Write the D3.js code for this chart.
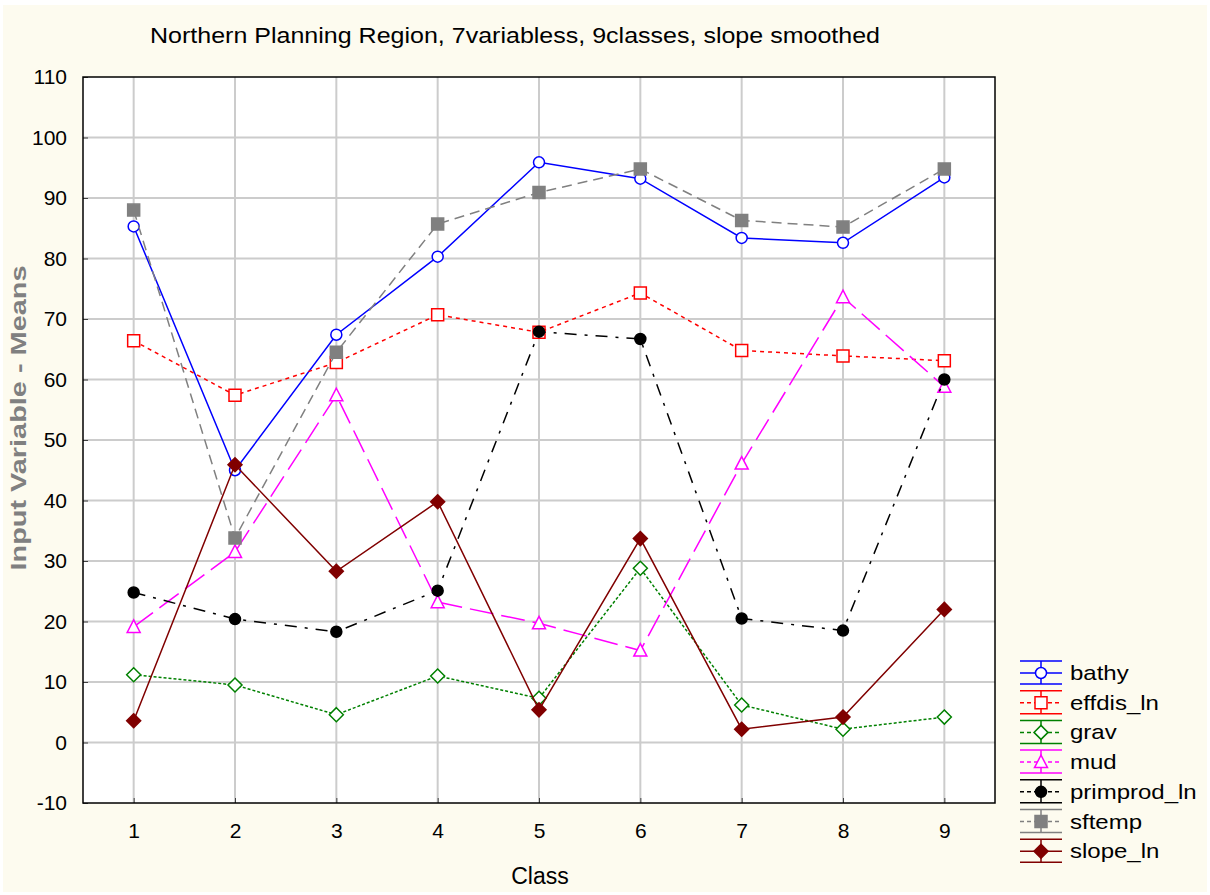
<!DOCTYPE html>
<html>
<head>
<meta charset="utf-8">
<script src="https://cdn.jsdelivr.net/npm/d3@7"></script>
<style>
  html, body { margin: 0; padding: 0; background: #ffffff; }
  svg { display: block; }
  text { font-family: "Liberation Sans", Arial, sans-serif; }
</style>
</head>
<body>
<svg id="chart" width="1210" height="895"></svg>
<script>
// ---------------- data ----------------
const classes = [1, 2, 3, 4, 5, 6, 7, 8, 9];
const yTicks = [-10, 0, 10, 20, 30, 40, 50, 60, 70, 80, 90, 100, 110];
const seriesNames = ["bathy", "effdis_ln", "grav", "mud", "primprod_ln", "sftemp", "slope_ln"];
const bathy       = [85.3, 45.0, 67.4, 80.3, 95.9, 93.2, 83.4, 82.6, 93.4];
const effdis_ln   = [66.4, 57.4, 62.8, 70.7, 67.8, 74.3, 64.8, 63.9, 63.1];
const grav        = [11.2, 9.5, 4.6, 11.0, 7.3, 28.8, 6.2, 2.2, 4.2];
const mud         = [19.1, 31.5, 57.4, 23.2, 19.7, 15.2, 46.1, 73.6, 58.8];
const primprod_ln = [24.8, 20.4, 18.3, 25.1, 67.9, 66.7, 20.5, 18.5, 60.0];
const sftemp      = [88.0, 33.8, 64.5, 85.7, 90.9, 94.8, 86.3, 85.2, 94.8];
const slope_ln    = [3.6, 45.9, 28.3, 39.8, 5.4, 33.7, 2.2, 4.2, 22.0];
const titleText = "Northern Planning Region, 7variabless, 9classes, slope smoothed";
const xLabel = "Class";
const yLabel = "Input Variable - Means";

const seriesValues = [bathy, effdis_ln, grav, mud, primprod_ln, sftemp, slope_ln];

// ---------------- styles ----------------
const styles = {
  "bathy":       { color: "#0000ff", dash: null,          marker: "circle",   fill: "#ffffff", width: 1.5 },
  "effdis_ln":   { color: "#ff0000", dash: "4,4",         marker: "square",   fill: "#ffffff", width: 1.5 },
  "grav":        { color: "#008000", dash: "3,2",         marker: "diamond",  fill: "#ffffff", width: 1.5 },
  "mud":         { color: "#ff00ff", dash: "24,8",        marker: "triangle", fill: "#ffffff", width: 1.5 },
  "primprod_ln": { color: "#000000", dash: "12,8,3,8",    marker: "circle",   fill: "#000000", width: 1.5 },
  "sftemp":      { color: "#808080", dash: "10,6",        marker: "square",   fill: "#808080", width: 1.5 },
  "slope_ln":    { color: "#800000", dash: null,          marker: "diamond",  fill: "#800000", width: 1.5 }
};

function markerPath(type) {
  switch (type) {
    case "circle":   return d3.symbol(d3.symbolCircle, Math.PI * 5.5 * 5.5)();
    case "square":   return "M-6,-6H6V6H-6Z";
    case "diamond":  return "M0,-7L7,0L0,7L-7,0Z";
    case "triangle": return "M0,-7L6.5,5.5H-6.5Z";
  }
}

// ---------------- layout ----------------
const svg = d3.select("#chart");
const W = 1210, H = 895;
const plot = { left: 83, right: 995, top: 77, bottom: 803 };

svg.append("rect").attr("x", 0).attr("y", 0).attr("width", W).attr("height", H).attr("fill", "#ffffff");
svg.append("rect").attr("x", 3).attr("y", 5).attr("width", W - 6).attr("height", H - 8).attr("fill", "#fdfbef");

const x = d3.scaleLinear().domain([0.5, 9.5]).range([plot.left, plot.right]);
const y = d3.scaleLinear().domain([-10, 110]).range([plot.bottom, plot.top]);

// plot background
svg.append("rect")
  .attr("x", plot.left).attr("y", plot.top)
  .attr("width", plot.right - plot.left).attr("height", plot.bottom - plot.top)
  .attr("fill", "#ffffff");

// grid lines
const grid = svg.append("g");
grid.selectAll("line.gy").data(yTicks.slice(1, -1)).join("line")
  .attr("x1", plot.left).attr("x2", plot.right)
  .attr("y1", d => y(d)).attr("y2", d => y(d))
  .attr("stroke", "#cccccc").attr("stroke-width", 2);
grid.selectAll("line.gx").data(classes).join("line")
  .attr("x1", d => x(d)).attr("x2", d => x(d))
  .attr("y1", plot.top).attr("y2", plot.bottom)
  .attr("stroke", "#cccccc").attr("stroke-width", 2);

// axes (ticks inside)
const yAxis = d3.axisLeft(y).tickValues(yTicks).tickSize(-5).tickPadding(16).tickFormat(d => String(d));
const gy = svg.append("g").attr("transform", `translate(${plot.left},0)`).call(yAxis);
gy.select(".domain").remove();
gy.selectAll(".tick line").attr("stroke", "#404040").attr("stroke-width", 1);
gy.selectAll(".tick text").attr("font-size", 21).attr("fill", "#000")
  .attr("font-family", "'Liberation Sans', Arial, sans-serif");

const xAxis = d3.axisBottom(x).tickValues(classes).tickSize(-5).tickPadding(20).tickFormat(d => String(d));
const gx = svg.append("g").attr("transform", `translate(0,${plot.bottom})`).call(xAxis);
gx.select(".domain").remove();
gx.selectAll(".tick line").attr("stroke", "#404040").attr("stroke-width", 1);
gx.selectAll(".tick text").attr("font-size", 21).attr("fill", "#000")
  .attr("font-family", "'Liberation Sans', Arial, sans-serif");

// frame
svg.append("rect")
  .attr("x", plot.left).attr("y", plot.top)
  .attr("width", plot.right - plot.left).attr("height", plot.bottom - plot.top)
  .attr("fill", "none").attr("stroke", "#000").attr("stroke-width", 1.5);

// series
const line = d3.line().x((d, i) => x(classes[i])).y(d => y(d));
seriesNames.forEach((name, si) => {
  const st = styles[name];
  const vals = seriesValues[si];
  const g = svg.append("g");
  g.append("path").datum(vals)
    .attr("d", line)
    .attr("fill", "none")
    .attr("stroke", st.color)
    .attr("stroke-width", st.width)
    .attr("stroke-dasharray", st.dash);
  g.selectAll("path.m").data(vals).join("path")
    .attr("class", "m")
    .attr("transform", (d, i) => `translate(${x(classes[i])},${y(d)})`)
    .attr("d", markerPath(st.marker))
    .attr("fill", st.fill)
    .attr("stroke", st.color)
    .attr("stroke-width", 1.5);
});

// title
svg.append("text")
  .attr("x", 515).attr("y", 43)
  .attr("text-anchor", "middle")
  .attr("font-size", 22.5)
  .attr("fill", "#000")
  .attr("textLength", 730)
  .attr("lengthAdjust", "spacingAndGlyphs")
  .text(titleText);

// axis labels
svg.append("text")
  .attr("x", 540).attr("y", 884)
  .attr("text-anchor", "middle")
  .attr("font-size", 23)
  .attr("fill", "#000")
  .text(xLabel);

svg.append("text")
  .attr("transform", "translate(26,418) rotate(-90)")
  .attr("text-anchor", "middle")
  .attr("font-size", 22)
  .attr("font-weight", "bold")
  .attr("fill", "#808080")
  .attr("textLength", 305)
  .attr("lengthAdjust", "spacingAndGlyphs")
  .text(yLabel);

// legend
const legend = svg.append("g").attr("transform", "translate(1020,673)");
const rowH = 29.7;
seriesNames.forEach((name, i) => {
  const st = styles[name];
  const g = legend.append("g").attr("transform", `translate(0,${i * rowH})`);
  g.append("line").attr("x1", 0).attr("x2", 42).attr("y1", -12).attr("y2", -12)
    .attr("stroke", st.color).attr("stroke-width", 1.5);
  g.append("line").attr("x1", 0).attr("x2", 42).attr("y1", 11).attr("y2", 11)
    .attr("stroke", st.color).attr("stroke-width", 1.5);
  g.append("line").attr("x1", 21).attr("x2", 21).attr("y1", -12).attr("y2", 11)
    .attr("stroke", st.color).attr("stroke-width", 1.5);
  g.append("line").attr("x1", 0).attr("x2", 42).attr("y1", 0).attr("y2", 0)
    .attr("stroke", st.color).attr("stroke-width", 1.5)
    .attr("stroke-dasharray", st.dash ? "4,3" : null);
  g.append("path").attr("transform", "translate(21,0)")
    .attr("d", markerPath(st.marker))
    .attr("fill", st.fill).attr("stroke", st.color).attr("stroke-width", 1.5);
  g.append("text")
    .attr("x", 50).attr("y", 7)
    .attr("font-size", 20)
    .attr("fill", "#000")
    .attr("font-family", "'DejaVu Sans', Verdana, sans-serif")
    .attr("transform", "translate(50,0) scale(1.2,1) translate(-50,0)")
    .text(name);
});
</script>
</body>
</html>
